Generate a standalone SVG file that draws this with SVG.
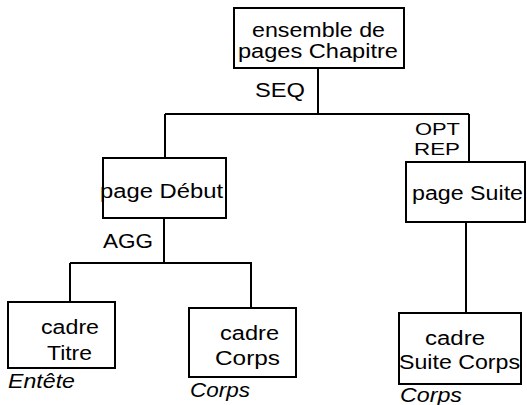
<svg xmlns="http://www.w3.org/2000/svg" width="527" height="405" viewBox="0 0 527 405">
<style>
.box{fill:#fff;stroke:#000;stroke-width:2}
.ln{stroke:#000;stroke-width:2;fill:none}
text{font-family:"Liberation Sans",Arial,sans-serif;font-size:20px;fill:#000}
.sm{font-size:17px}
.it{font-style:italic}
</style>
<rect width="527" height="405" fill="#fff"/>
<g id="connectors">
<path class="ln" d="M318,68V114M165,114H469M165,114V158M164,218V263M70,263H252M70,263V302M251,263V308M469,114V162M466,222V313"/>
</g>
<g id="labels">
<text x="255" y="97" textLength="50" lengthAdjust="spacingAndGlyphs">SEQ</text>
<text x="103" y="248" textLength="50" lengthAdjust="spacingAndGlyphs">AGG</text>
<text class="sm" x="415" y="135" textLength="45" lengthAdjust="spacingAndGlyphs">OPT</text>
<text class="sm" x="414" y="155" textLength="46" lengthAdjust="spacingAndGlyphs">REP</text>
</g>
<g id="n-ensemble">
<rect class="box" x="234" y="8" width="170" height="60"/>
<text x="252" y="37" textLength="133" lengthAdjust="spacingAndGlyphs">ensemble de</text>
<text x="238" y="58" textLength="160" lengthAdjust="spacingAndGlyphs">pages Chapitre</text>
</g>
<g id="n-debut">
<rect class="box" x="103" y="158" width="123" height="60"/>
<text x="100" y="198" textLength="123" lengthAdjust="spacingAndGlyphs">page Début</text>
</g>
<g id="n-suite">
<rect class="box" x="406" y="162" width="119" height="60"/>
<text x="412" y="200" textLength="111" lengthAdjust="spacingAndGlyphs">page Suite</text>
</g>
<g id="n-titre">
<rect class="box" x="8" y="302" width="107" height="66"/>
<text x="41" y="334" textLength="58" lengthAdjust="spacingAndGlyphs">cadre</text>
<text x="47" y="360" textLength="45" lengthAdjust="spacingAndGlyphs">Titre</text>
<text class="it" x="8" y="388" textLength="67" lengthAdjust="spacingAndGlyphs">Entête</text>
</g>
<g id="n-corps">
<rect class="box" x="189" y="308" width="107" height="69"/>
<text x="220" y="340" textLength="59" lengthAdjust="spacingAndGlyphs">cadre</text>
<text x="215" y="365" textLength="65" lengthAdjust="spacingAndGlyphs">Corps</text>
<text class="it" x="190" y="397" textLength="60" lengthAdjust="spacingAndGlyphs">Corps</text>
</g>
<g id="n-suitecorps">
<rect class="box" x="399" y="313" width="122" height="71"/>
<text x="425" y="345" textLength="60" lengthAdjust="spacingAndGlyphs">cadre</text>
<text x="399" y="369" textLength="121" lengthAdjust="spacingAndGlyphs">Suite Corps</text>
<text class="it" x="400" y="402" textLength="62" lengthAdjust="spacingAndGlyphs">Corps</text>
</g>
</svg>
